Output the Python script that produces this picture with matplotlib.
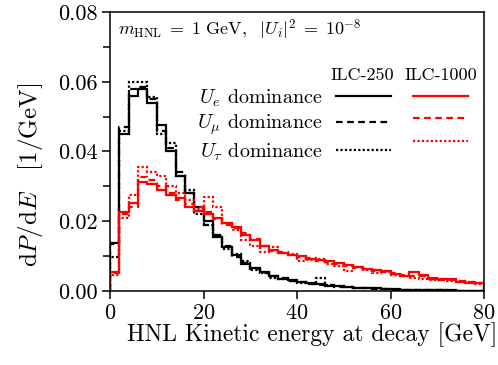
import matplotlib
matplotlib.use("Agg")
import matplotlib.pyplot as plt
import numpy as np
from matplotlib.lines import Line2D
from matplotlib.ticker import MultipleLocator, FormatStrFormatter

plt.rcParams['font.family'] = 'serif'
plt.rcParams['font.serif'] = ['cmr10']
plt.rcParams['mathtext.fontset'] = 'cm'
plt.rcParams['axes.formatter.use_mathtext'] = True

# 2 GeV bins from 0 to 80 GeV
edges = np.arange(0, 82, 2)

# ILC-250
e_250 = [0.0138, 0.045, 0.056, 0.058, 0.054, 0.0476, 0.040, 0.033, 0.028, 0.024,
         0.020, 0.0155, 0.0126, 0.0103, 0.0078, 0.0066, 0.0053, 0.0042, 0.0035, 0.0030,
         0.0026, 0.0022, 0.0019, 0.0015, 0.0013, 0.0011, 0.0009, 0.0008, 0.0007, 0.0006,
         0.0005, 0.0004, 0.0003, 0.0003, 0.0002, 0.0002, 0.00015, 0.0001, 0.0001, 0.0001]
mu_250 = [0.0135, 0.047, 0.058, 0.0585, 0.055, 0.046, 0.041, 0.034, 0.028, 0.023,
          0.019, 0.016, 0.013, 0.0098, 0.008, 0.0064, 0.005, 0.0044, 0.0036, 0.0029,
          0.0025, 0.0021, 0.0018, 0.0016, 0.0012, 0.001, 0.0009, 0.0007, 0.0006, 0.0005,
          0.0004, 0.0004, 0.0003, 0.0002, 0.0002, 0.00015, 0.0001, 0.0001, 0.0001, 0.00005]
tau_250 = [0.0098, 0.046, 0.060, 0.060, 0.0555, 0.045, 0.0425, 0.033, 0.029, 0.022,
           0.019, 0.016, 0.012, 0.0105, 0.0085, 0.006, 0.0050, 0.0038, 0.0034, 0.0028,
           0.0024, 0.0020, 0.0037, 0.0016, 0.0013, 0.0010, 0.0009, 0.0007, 0.0006, 0.0005,
           0.0004, 0.0003, 0.0003, 0.0002, 0.0002, 0.00015, 0.0001, 0.0001, 0.00008, 0.00005]

# ILC-1000
e_1000 = [0.0055, 0.0226, 0.0252, 0.0313, 0.0307, 0.029, 0.0275, 0.0267, 0.024, 0.023,
          0.0222, 0.021, 0.0195, 0.0184, 0.016, 0.0146, 0.013, 0.0118, 0.011, 0.0103,
          0.0100, 0.0092, 0.0089, 0.0085, 0.008, 0.0075, 0.0069, 0.0062, 0.006, 0.0058,
          0.0048, 0.0042, 0.0055, 0.0046, 0.0036, 0.0033, 0.0034, 0.0026, 0.0024, 0.0023]
mu_1000 = [0.005, 0.022, 0.024, 0.0327, 0.0318, 0.030, 0.028, 0.026, 0.025, 0.024,
           0.0225, 0.0205, 0.019, 0.018, 0.0165, 0.015, 0.0128, 0.0115, 0.0112, 0.0102,
           0.0098, 0.0093, 0.0085, 0.0082, 0.0078, 0.0072, 0.0066, 0.0063, 0.0058, 0.0054,
           0.005, 0.0046, 0.0044, 0.0042, 0.0035, 0.0032, 0.003, 0.0028, 0.0025, 0.0022]
tau_1000 = [0.0046, 0.021, 0.0275, 0.0356, 0.034, 0.033, 0.030, 0.028, 0.026, 0.0235,
            0.027, 0.024, 0.0195, 0.0175, 0.0145, 0.013, 0.0112, 0.0125, 0.0108, 0.0105,
            0.0085, 0.0088, 0.0092, 0.0078, 0.0072, 0.0058, 0.0068, 0.006, 0.0052, 0.0055,
            0.0045, 0.0043, 0.0038, 0.0034, 0.003, 0.0032, 0.0027, 0.0028, 0.0025, 0.002]

styles = ['-', (0, (3, 2)), (0, (1, 1))]
labels = [r'$U_e$ dominance', r'$U_\mu$ dominance', r'$U_\tau$ dominance']

fig = plt.figure(figsize=(4.98, 3.65), dpi=100)
ax = fig.add_axes([0.221, 0.203, 0.751, 0.764])

for vals, ls in zip([e_250, mu_250, tau_250], styles):
    ax.stairs(vals, edges, color='black', linestyle=ls, lw=1.6)
for vals, ls in zip([e_1000, mu_1000, tau_1000], styles):
    ax.stairs(vals, edges, color='red', linestyle=ls, lw=1.6)

ax.set_xlim(0, 80)
ax.set_ylim(0, 0.08)
ax.xaxis.set_major_locator(MultipleLocator(20))
ax.yaxis.set_major_locator(MultipleLocator(0.02))
ax.yaxis.set_minor_locator(MultipleLocator(0.01))
ax.yaxis.set_major_formatter(FormatStrFormatter('%.2f'))
ax.tick_params(which='both', direction='out', labelsize=16, width=1.1)
ax.tick_params(which='major', length=5.5)
ax.tick_params(which='minor', length=5)
for s in ax.spines.values():
    s.set_linewidth(1.1)

ax.set_xlabel('HNL Kinetic energy at decay [GeV]', fontsize=17)
ax.xaxis.set_label_coords(0.54, -0.112)
ax.set_ylabel(r'$\mathrm{d}P/\mathrm{d}E\quad$[1/GeV]', fontsize=18)
ax.yaxis.set_label_coords(-0.175, 0.415)

ax.text(0.021, 0.935, r'$m_{\rm HNL}\;=\;1\ \mathrm{GeV},\ \ |U_i|^2\;=\;10^{-8}$',
        transform=ax.transAxes, fontsize=13, va='center', ha='left')

handles = [Line2D([], [], color='black', ls=ls, lw=1.6) for ls in styles] + \
          [Line2D([], [], color='red', ls=ls, lw=1.6) for ls in styles]
ax.legend(handles, labels + ['', '', ''], ncol=2, markerfirst=False, frameon=False,
          fontsize=14.5, handlelength=2.73, handletextpad=0.65, columnspacing=0.45,
          labelspacing=0.2, borderpad=0, borderaxespad=0,
          loc='upper right', bbox_to_anchor=(0.957, 0.73))
ax.text(0.676, 0.774, 'ILC-250', transform=ax.transAxes, fontsize=13,
        ha='center', va='center')
ax.text(0.885, 0.774, 'ILC-1000', transform=ax.transAxes, fontsize=13,
        ha='center', va='center')

fig.savefig('out.png', dpi=100)
